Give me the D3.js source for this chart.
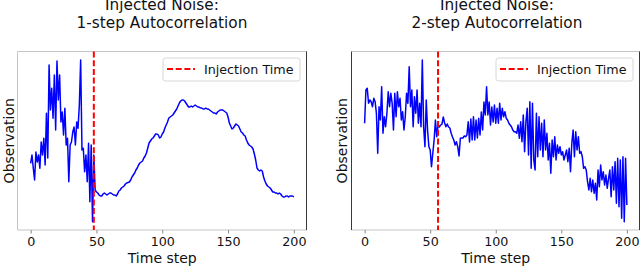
<!DOCTYPE html>
<html>
<head>
<meta charset="utf-8">
<script src="https://cdn.jsdelivr.net/npm/d3@7"></script>
<style>
  html, body { margin: 0; padding: 0; background: #fff; }
  svg { display: block; font-family: "DejaVu Sans", sans-serif; }
</style>
</head>
<body>
<svg id="chart" width="640" height="268"></svg>
<script>
// ---------------- data ----------------
const titles = [["Injected Noise:", "1-step Autocorrelation"], ["Injected Noise:", "2-step Autocorrelation"]];
const xLabel = "Time step";
const yLabel = "Observation";
const legendLabel = "Injection Time";
const xTicks = [0, 50, 100, 150, 200];
const injectionTimes = [48, 56];

// observation values (arbitrary units, y axis is unlabeled), one per time step 0..200
const seriesOneStep = [
  66.7, 75, 61.7, 50, 78, 68, 75, 61.7, 88, 75,
  91.7, 65, 116.7, 72, 165, 120, 141.7, 111.7, 155, 100,
  169, 130, 155, 108, 118, 95, 121.7, 85, 91.7, 48.3,
  85, 88, 98, 103, 85, 108, 101.7, 125, 170, 80,
  81.7, 58.3, 75, 48.3, 86.7, 28.3, 85, 8.3, 75, 40,
  38, 37, 35, 34, 34, 36, 37, 36, 35, 36,
  37, 37, 36, 35, 35, 34, 36, 39, 40, 42,
  43, 44, 46, 47, 47.5, 48, 50, 53, 55, 57,
  60, 62, 65, 67, 68, 69, 72, 74, 77, 82,
  87, 89, 91, 92, 94, 96, 96, 95, 92, 93,
  96, 98, 102, 105, 108, 112, 113, 114, 115, 117,
  119, 121, 124, 127, 129, 130, 130, 129, 127, 125,
  123, 123, 124, 123, 124, 125, 124, 123, 123, 122,
  122, 121, 121, 122, 121, 121, 120, 119, 118, 117,
  117, 116, 118, 119, 120, 120, 120, 119, 118, 117,
  113, 107, 104, 101, 102, 104, 106, 105, 104, 101,
  98, 97, 95, 94, 90, 87, 85, 84, 83, 81,
  76, 70, 62, 60, 59, 60, 59, 53, 49, 46,
  44, 43, 42, 40, 38, 38, 37, 37, 36, 37,
  36, 34, 33, 33, 34, 34, 33, 34, 34, 34,
  33
];
const seriesTwoStep = [
  106.7, 140, 141.7, 126.7, 130, 128.3, 123.3, 131.7, 128.3, 116.7,
  76.7, 123.3, 110, 143.3, 96.7, 113.3, 103.3, 116.7, 138.3, 123.3,
  136.7, 126.7, 100, 136.7, 113.3, 138.3, 123.3, 131.7, 110, 118.3,
  100, 113.3, 136.7, 126.7, 163.3, 123.3, 140, 103.3, 133.3, 116.7,
  140, 106.7, 126.7, 103.3, 170, 103.3, 83.3, 130, 100, 83.3,
  80, 63.3, 76.7, 90, 110, 93.3, 105, 103, 105, 106,
  113, 107, 103.3, 106, 103, 102, 96.7, 93, 90, 85,
  88.3, 83.3, 74, 91.7, 92, 92, 94, 93.3, 95, 108.3,
  88, 111, 90, 113.3, 90, 110, 92, 111.7, 95, 118,
  100, 128, 115, 143.3, 115, 128, 105, 123, 108, 125,
  106.7, 121.7, 106.7, 126.7, 110, 121.7, 113.3, 118.3, 111.7, 110,
  106.7, 105, 103.3, 100, 98.3, 98.3, 96.7, 105, 91.7, 108.3,
  88.3, 115, 78.3, 108.3, 121.7, 75, 128.3, 61.7, 126.7, 70,
  60, 116.7, 73.3, 113.3, 80, 106.7, 73.3, 110, 80, 96.7,
  70, 86.7, 56.7, 90, 73.3, 93.3, 70, 85, 76.7, 83.3,
  75, 78.3, 70, 75, 80, 68.3, 81.7, 58.3, 86.7, 100,
  73.3, 98.3, 80, 93.3, 76.7, 78.3, 73.3, 61.7, 63.3, 60,
  48.3, 40, 51.7, 38.3, 50, 36.7, 46.7, 30, 60, 43.3,
  65, 50, 58.3, 45, 55, 41.7, 51.7, 60, 33.3, 63.3,
  40, 68.3, 26.7, 71.7, 23.3, 70, 11.7, 73.3, 8.3, 71.7,
  25
];
const allSeries = [seriesOneStep, seriesTwoStep];

// ---------------- layout ----------------
const svg = d3.select("#chart");
const panels = [
  { left: 17.5, right: 307, titleX: 162, ylabX: 14 },
  { left: 351.5, right: 640, titleX: 497, ylabX: 346.5 }
];
const plotTop = 51.5, plotBottom = 230;

panels.forEach((p, i) => {
  const vals = allSeries[i];
  const x = d3.scaleLinear().domain([-10, 210]).range([p.left, p.right]);
  const y = d3.scaleLinear().domain([0, 178.5]).range([plotBottom, plotTop]);
  const g = svg.append("g");

  const light = "#c4c4c4", dark = "#3a3a3a";
  g.append("line").attr("x1", p.left).attr("x2", p.right).attr("y1", plotTop).attr("y2", plotTop)
    .attr("stroke", light).attr("stroke-width", 1);
  g.append("line").attr("x1", p.left).attr("x2", p.right).attr("y1", plotBottom).attr("y2", plotBottom)
    .attr("stroke", light).attr("stroke-width", 1);
  g.append("line").attr("x1", p.left).attr("x2", p.left).attr("y1", plotTop).attr("y2", plotBottom)
    .attr("stroke", i === 0 ? light : dark).attr("stroke-width", 1);
  g.append("line").attr("x1", p.right - 0.5).attr("x2", p.right - 0.5).attr("y1", plotTop).attr("y2", plotBottom)
    .attr("stroke", dark).attr("stroke-width", 1);

  // x axis
  const ax = g.append("g").attr("transform", `translate(0,${plotBottom})`)
    .call(d3.axisBottom(x).tickValues(xTicks).tickSize(3.5).tickPadding(3).tickSizeOuter(0));
  ax.select(".domain").remove();
  ax.selectAll(".tick line").attr("stroke", "#888");
  ax.selectAll(".tick text").attr("font-size", "12.7px").attr("fill", "#111")
    .attr("font-family", "DejaVu Sans, sans-serif");

  // series line
  const line = d3.line().x((d, k) => x(k)).y(d => y(d));
  g.append("path").datum(vals).attr("d", line)
    .attr("fill", "none").attr("stroke", "#0000ff").attr("stroke-width", 1.5)
    .attr("stroke-linejoin", "round");

  // injection line
  g.append("line").attr("x1", x(injectionTimes[i])).attr("x2", x(injectionTimes[i]))
    .attr("y1", plotTop).attr("y2", plotBottom)
    .attr("stroke", "#ff0000").attr("stroke-width", 2).attr("stroke-dasharray", "6,2.7");

  // legend
  const lx = p.right - 144, ly = 58;
  g.append("rect").attr("x", lx).attr("y", ly).attr("width", 137).attr("height", 23)
    .attr("rx", 2.5).attr("fill", "#fff").attr("fill-opacity", 0.85)
    .attr("stroke", "#d6d6d6").attr("stroke-width", 1);
  g.append("line").attr("x1", lx + 4).attr("x2", lx + 32).attr("y1", ly + 11).attr("y2", ly + 11)
    .attr("stroke", "#ff0000").attr("stroke-width", 2).attr("stroke-dasharray", "6,2.7");
  g.append("text").attr("x", lx + 41).attr("y", ly + 15.5).attr("font-size", "12.7px")
    .attr("fill", "#111").text(legendLabel);

  // titles
  titles[i].forEach((t, k) => {
    g.append("text").attr("x", p.titleX).attr("y", 10 + k * 18).attr("text-anchor", "middle")
      .attr("font-size", "15.3px").attr("fill", "#111").text(t);
  });

  // axis labels
  g.append("text").attr("x", (p.left + p.right) / 2).attr("y", 263)
    .attr("text-anchor", "middle").attr("font-size", "14px").attr("fill", "#111").text(xLabel);
  g.append("text").attr("transform", `translate(${p.ylabX},${(plotTop + plotBottom) / 2}) rotate(-90)`)
    .attr("text-anchor", "middle").attr("font-size", "14px").attr("fill", "#111").text(yLabel);
});
</script>
</body>
</html>
